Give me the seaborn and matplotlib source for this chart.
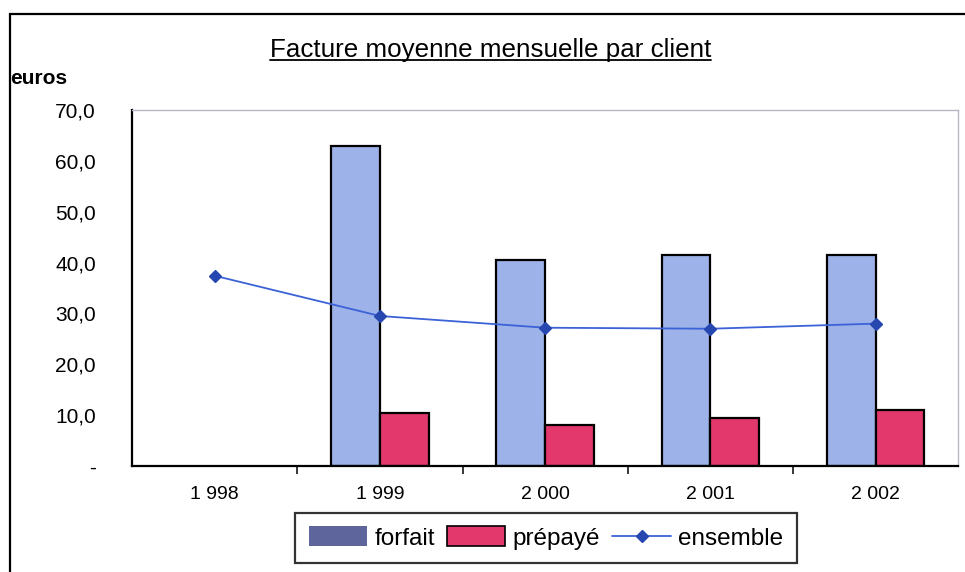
import matplotlib
matplotlib.use("Agg")
import matplotlib.pyplot as plt
import seaborn as sns
import pandas as pd
import numpy as np
from matplotlib.patches import Patch, Rectangle
from matplotlib.lines import Line2D
from matplotlib.ticker import FixedLocator

# ---- data ----
years = ["1 998", "1 999", "2 000", "2 001", "2 002"]
forfait = [np.nan, 62.8, 40.5, 41.5, 41.5]
prepaye = [np.nan, 10.5, 8.0, 9.5, 11.0]
ensemble = [37.4, 29.5, 27.2, 27.0, 28.0]
series_names = ["forfait", "prépayé", "ensemble"]
yticks = [0, 10, 20, 30, 40, 50, 60, 70]
ytick_labels = ["-", "10,0", "20,0", "30,0", "40,0", "50,0", "60,0", "70,0"]
title = "Facture moyenne mensuelle par client"
ylabel = "euros"

c_forfait = "#9db2e8"
c_forfait_leg = "#5d659c"
c_prepaye = "#e2386c"
c_line = "#3b62d6"
c_marker = "#2747b0"

sns.set_theme(style="white")
plt.rcParams['font.family'] = ['Liberation Sans', 'DejaVu Sans']
plt.rcParams['text.color'] = 'black'

fig = plt.figure(figsize=(9.65, 5.72), dpi=100)
ax = fig.add_axes([0.137, 0.185, 0.856, 0.623])

df = pd.DataFrame({
    "year": years * 2,
    "serie": [series_names[0]] * len(years) + [series_names[1]] * len(years),
    "value": forfait + prepaye,
}).dropna()

sns.barplot(data=df, x="year", y="value", hue="serie", order=years,
            hue_order=series_names[:2], palette=[c_forfait, c_prepaye],
            width=0.59, edgecolor="black", linewidth=1.6, saturation=1,
            errorbar=None, legend=False, ax=ax)

sns.pointplot(x=years, y=ensemble, order=years, color=c_line, markers="D",
              markersize=6, linewidth=1.3, errorbar=None, ax=ax)
for coll in ax.lines[-1:]:
    coll.set_markerfacecolor(c_marker)
    coll.set_markeredgecolor(c_marker)

ax.set_xlim(-0.5, len(years) - 0.5)
ax.set_ylim(0, 70)
ax.set_yticks(yticks)
ax.set_yticklabels(ytick_labels, fontsize=15)
ax.set_xlabel("")
ax.set_ylabel("")
ax.tick_params(axis="y", direction="out", length=6, width=1.3, pad=20,
               colors="black", labelcolor="black")
ax.tick_params(axis="x", which="major", length=0, pad=14, labelsize=14,
               colors="black", labelcolor="black")
ax.xaxis.set_minor_locator(FixedLocator(np.arange(0.5, len(years) - 0.5, 1)))
ax.tick_params(axis="x", which="minor", direction="out", length=6, width=1.3, bottom=True)

for s in ["left", "bottom"]:
    ax.spines[s].set_color("black")
    ax.spines[s].set_linewidth(1.6)
for s in ["top", "right"]:
    ax.spines[s].set_color("#b8b8c8")
    ax.spines[s].set_linewidth(1.0)
ax.grid(False)

# outer frame
fig.add_artist(Rectangle((10 / 965, -0.01), 1.0, 1 - 14 / 572 + 0.01,
                         transform=fig.transFigure, fill=False,
                         edgecolor="black", linewidth=1.6))

# title with underline
t = fig.text(0.508, 1 - 50 / 572, title, ha="center", va="center",
             fontsize=18.7, color="black")
fig.canvas.draw()
bb = t.get_window_extent().transformed(fig.transFigure.inverted())
fig.add_artist(Line2D([bb.x0, bb.x1], [bb.y0 + 0.004, bb.y0 + 0.004],
                      transform=fig.transFigure, color="black", linewidth=1.3))

fig.text(10 / 965, 1 - 78 / 572, ylabel, ha="left", va="center",
         fontsize=15, fontweight="bold", color="black")

handles = [
    Patch(facecolor=c_forfait_leg, edgecolor="none"),
    Patch(facecolor=c_prepaye, edgecolor="black", linewidth=1.2),
    Line2D([0], [0], color=c_line, marker="D", markersize=6,
           markerfacecolor=c_marker, markeredgecolor=c_marker, linewidth=1.3),
]
leg = fig.legend(handles, series_names, loc="center",
                 bbox_to_anchor=(546 / 965, 1 - 538 / 572), ncol=3,
                 frameon=True, fancybox=False, edgecolor="black",
                 fontsize=17.5, handlelength=2.4, handleheight=0.9,
                 columnspacing=0.5, handletextpad=0.3, borderpad=0.55,
                 labelcolor="black")
leg.get_frame().set_linewidth(1.6)

fig.savefig("out.png", dpi=100)
